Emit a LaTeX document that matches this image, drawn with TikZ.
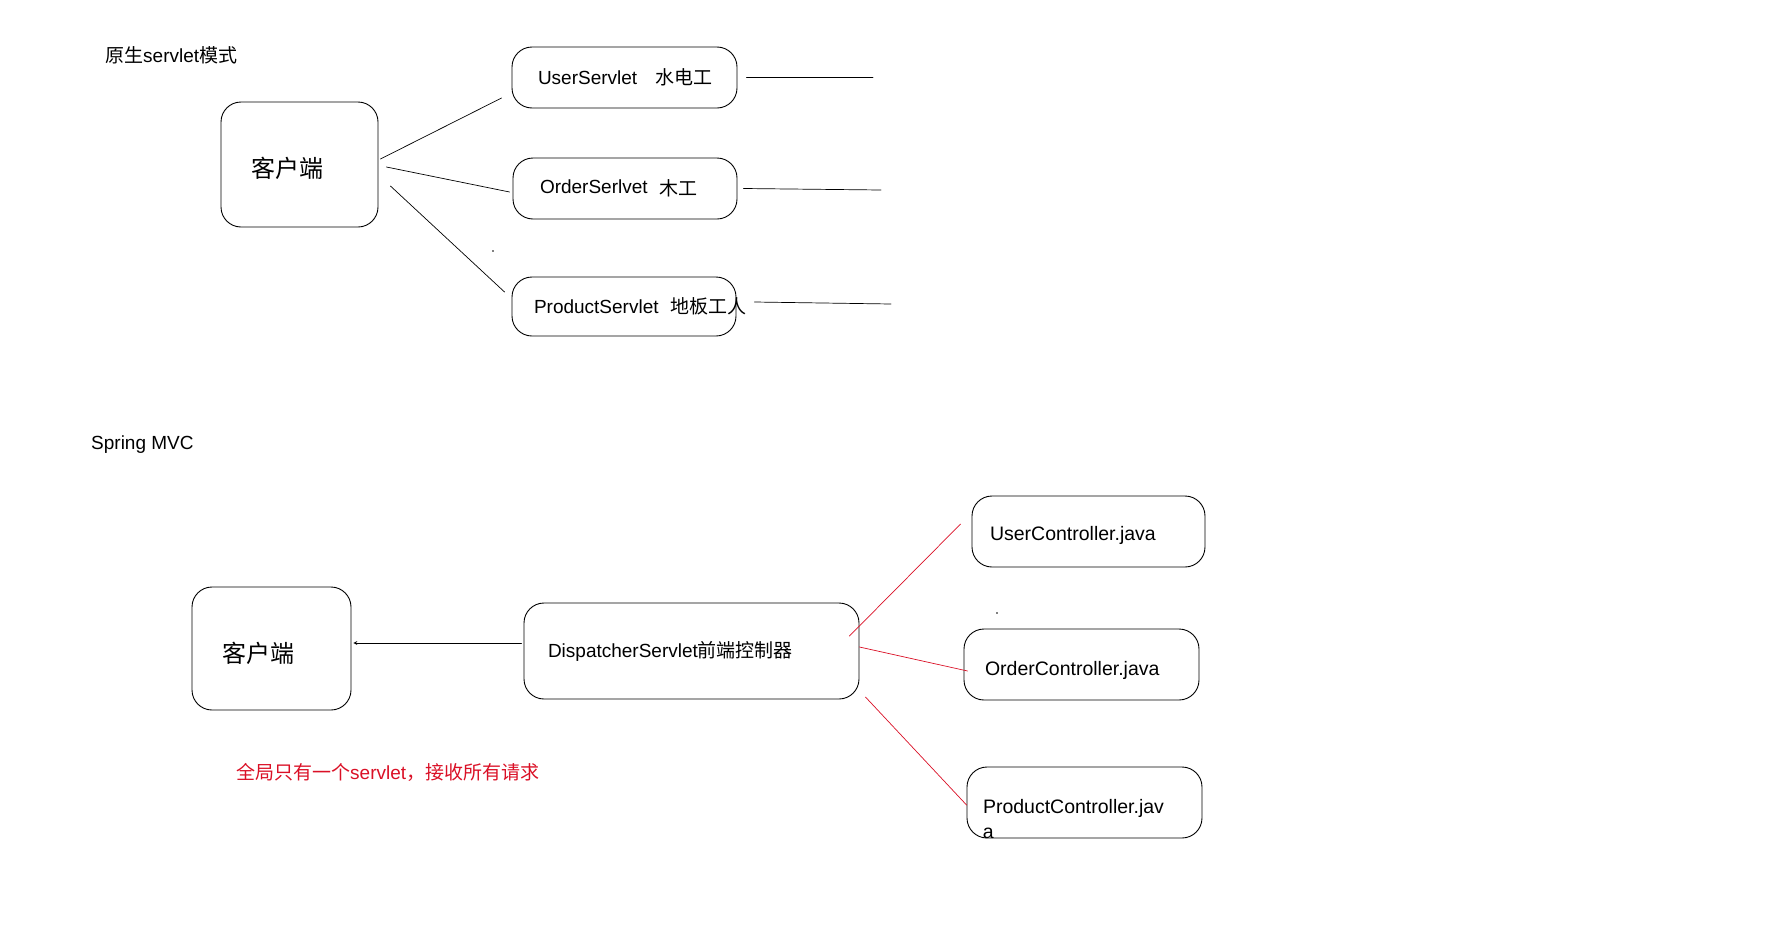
\documentclass[tikz,border=0pt]{standalone}
\usepackage{fontspec}
\setmainfont{Liberation Sans}
\newfontfamily\zhfont{Noto Sans CJK SC}
\newcommand\zh[1]{{\zhfont #1}}
\definecolor{mvcred}{RGB}{218,16,38}
\begin{document}
\begin{tikzpicture}[x=1pt, y=-1pt, line join=round, line cap=round, >=stealth,
		font=\fontsize{19pt}{23pt}\selectfont,
		rbox/.style={draw, line width=0.9pt, rounded corners=20pt, align=left, inner ysep=0pt},
		ctrl/.style={rbox, minimum height=71pt, text depth=0pt, font=\fontsize{19.5pt}{23pt}\selectfont},
		wire/.style={line width=0.7pt},
		redwire/.style={line width=0.7pt, draw=mvcred},
		title/.style={anchor=west, inner sep=0pt}]
	\useasboundingbox (0,0) rectangle (1779,937);
	% original servlet mode
	\node[title] (titleA) at (105,55) {\zh{原生}servlet\zh{模式}};
	\node[rbox, text width=97pt, inner xsep=30pt, minimum height=125pt, text height=25pt, text depth=0pt, font=\fontsize{24pt}{28pt}\selectfont] (clientA) at (299.5,164.5) {\zh{客户端}};
	\node[rbox, text width=173pt, inner xsep=26pt, minimum height=61pt] (userS) at (624.5,77.5) {UserServlet\kern18pt\zh{水电工}};
	\node[rbox, text width=170pt, inner xsep=27pt, minimum height=61pt] (orderS) at (625,188.5) {OrderSerlvet\kern12pt\raisebox{-2pt}{\zh{木工}}};
	\node[rbox, text width=180pt, inner xsep=22pt, minimum height=59pt] (productS) at (624,306.5) {ProductServlet\kern12pt\zh{地板工人}};
	\draw[wire] ([xshift=2pt, yshift=5.5pt]clientA.east) -- ([xshift=-10pt, yshift=-20.5pt]userS.west);
	\draw[wire] ([xshift=8pt, yshift=-2.5pt]clientA.east) -- ([xshift=-3pt, yshift=-3.5pt]orderS.west);
	\draw[wire] ([xshift=12pt, yshift=-21.5pt]clientA.east) -- ([xshift=-7pt, yshift=14.5pt]productS.west);
	\coordinate (userEnd) at (873,77);
	\coordinate (orderEnd) at (881,190);
	\coordinate (productEnd) at (891,304);
	\draw[wire] ([xshift=9pt, yshift=0.5pt]userS.east) -- (userEnd);
	\draw[wire] ([xshift=6pt]orderS.east) -- (orderEnd);
	\draw[wire] ([xshift=18pt, yshift=4.5pt]productS.east) -- (productEnd);
	\fill (493,251) circle [radius=0.8pt];
	% spring mvc
	\node[title] (titleB) at (91,445) {Spring MVC};
	\node[rbox, text width=99pt, inner xsep=30pt, minimum height=123pt, text height=27pt, text depth=0pt, font=\fontsize{24pt}{28pt}\selectfont] (clientB) at (271.5,648.5) {\zh{客户端}};
	\node[rbox, text width=287pt, inner xsep=24pt, minimum height=96pt] (dispatcher) at (691.5,651) {DispatcherServlet\zh{前端控制器}};
	\node[ctrl, text width=197pt, inner xsep=18pt, text height=17pt] (userC) at (1088.5,531.5) {UserController.java};
	\node[ctrl, text width=193pt, inner xsep=21pt, text height=21pt] (orderC) at (1081.5,664.5) {OrderController.java};
	\node[ctrl, text width=203pt, inner xsep=16pt, text height=21pt] (productC) at (1084.5,802.5) {ProductController.jav};
	\node[anchor=base west, inner sep=0pt, font=\fontsize{19.5pt}{23pt}\selectfont] (productCwrap) at ([xshift=16pt, yshift=-25pt]productC.base west) {a};
	\draw[wire, ->] ([xshift=-2pt, yshift=8pt]dispatcher.west) -- ([xshift=2pt, yshift=5.5pt]clientB.east);
	\draw[redwire] ([xshift=-10pt, yshift=15pt]dispatcher.east) -- ([xshift=-11pt, yshift=7.5pt]userC.west);
	\draw[redwire] ([yshift=4pt]dispatcher.east) -- ([xshift=4pt, yshift=-6.5pt]orderC.west);
	\draw[redwire] ([xshift=6pt, yshift=-46pt]dispatcher.east) -- ([yshift=-2.5pt]productC.west);
	\fill (997,613) circle [radius=0.8pt];
	\node[title, text=mvcred] (note) at (236,772) {\zh{全局只有一个}servlet\zh{，接收所有请求}};
\end{tikzpicture}
\end{document}
